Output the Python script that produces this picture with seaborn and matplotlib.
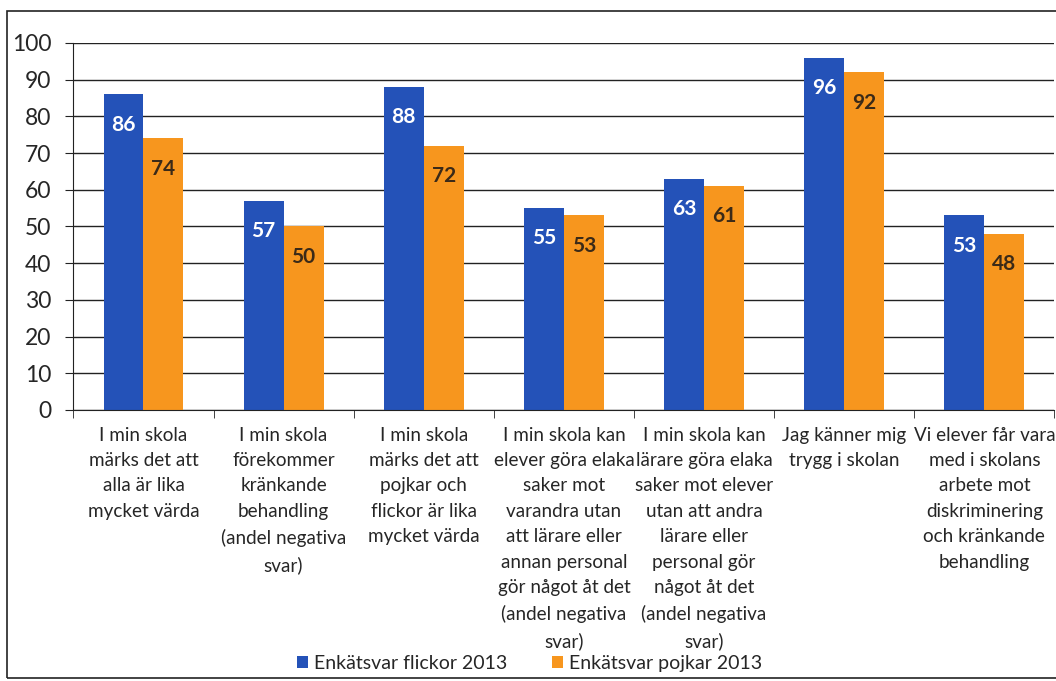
import pandas as pd
import matplotlib.pyplot as plt
import seaborn as sns
from matplotlib.patches import Rectangle

sns.set_style("white")
plt.rcParams['font.family'] = ['Lato', 'DejaVu Sans']

# -----------------------------
# Data
# -----------------------------
questions = [
    "I min skola\nmärks det att\nalla är lika\nmycket värda",
    "I min skola\nförekommer\nkränkande\nbehandling\n(andel negativa\nsvar)",
    "I min skola\nmärks det att\npojkar och\nflickor är lika\nmycket värda",
    "I min skola kan\nelever göra elaka\nsaker mot\nvarandra utan\natt lärare eller\nannan personal\ngör något åt det\n(andel negativa\nsvar)",
    "I min skola kan\nlärare göra elaka\nsaker mot elever\nutan att andra\nlärare eller\npersonal gör\nnågot åt det\n(andel negativa\nsvar)",
    "Jag känner mig\ntrygg i skolan",
    "Vi elever får vara\nmed i skolans\narbete mot\ndiskriminering\noch kränkande\nbehandling",
]
series_names = ["Enkätsvar flickor 2013", "Enkätsvar pojkar 2013"]
girls = [86, 57, 88, 55, 63, 96, 53]
boys = [74, 50, 72, 53, 61, 92, 48]
colors = ["#2452b8", "#f7961e"]

df = pd.DataFrame({
    "question": questions * 2,
    "group": [series_names[0]] * len(questions) + [series_names[1]] * len(questions),
    "value": girls + boys,
})

# -----------------------------
# Plot
# -----------------------------
fig = plt.figure(figsize=(10.56, 6.81), dpi=100)
ax = fig.add_axes([0.0695, 0.398, 0.929, 0.539])

sns.barplot(data=df, x="question", y="value", hue="group", palette=colors,
            width=0.57, gap=0, saturation=1, ax=ax, errorbar=None, linewidth=0)

label_colors = ["white", "#3b2a18"]
for cont, lc in zip(ax.containers, label_colors):
    ax.bar_label(cont, padding=-29, color=lc, fontsize=15, fontweight="bold")

ax.set_ylim(0, 100)
ax.set_yticks(range(0, 101, 10))
ax.set_xlim(-0.5, len(questions) - 0.5)
ax.yaxis.grid(True, color="#222222", linewidth=1)
ax.set_axisbelow(True)
ax.set_xlabel("")
ax.set_ylabel("")

for s in ["top", "right"]:
    ax.spines[s].set_visible(False)
ax.spines["left"].set_color("#222222")
ax.spines["bottom"].set_color("#222222")

ax.tick_params(axis="y", labelsize=16.5, length=6, left=True, color="#222222", pad=10)
ax.set_xticks(range(len(questions)))
ax.set_xticklabels(questions, fontsize=13.6, linespacing=1.6)
ax.tick_params(axis="x", length=0, pad=12)
# tick marks between categories
ax.set_xticks([i - 0.5 for i in range(len(questions) + 1)], minor=True)
ax.tick_params(axis="x", which="minor", length=6, bottom=True, color="#222222")

ax.legend(loc="center", bbox_to_anchor=(0.465, -0.69), ncol=2, frameon=False,
          fontsize=14, handlelength=0.55, handleheight=0.55, columnspacing=2.3,
          handletextpad=0.3, borderaxespad=0)

# chart border
fig.patches.append(Rectangle((0.007, 0.0045), 1.2, 0.98, transform=fig.transFigure,
                             fill=False, edgecolor="#222222", linewidth=1.2))

plt.savefig("out.png", dpi=100)
plt.close()
